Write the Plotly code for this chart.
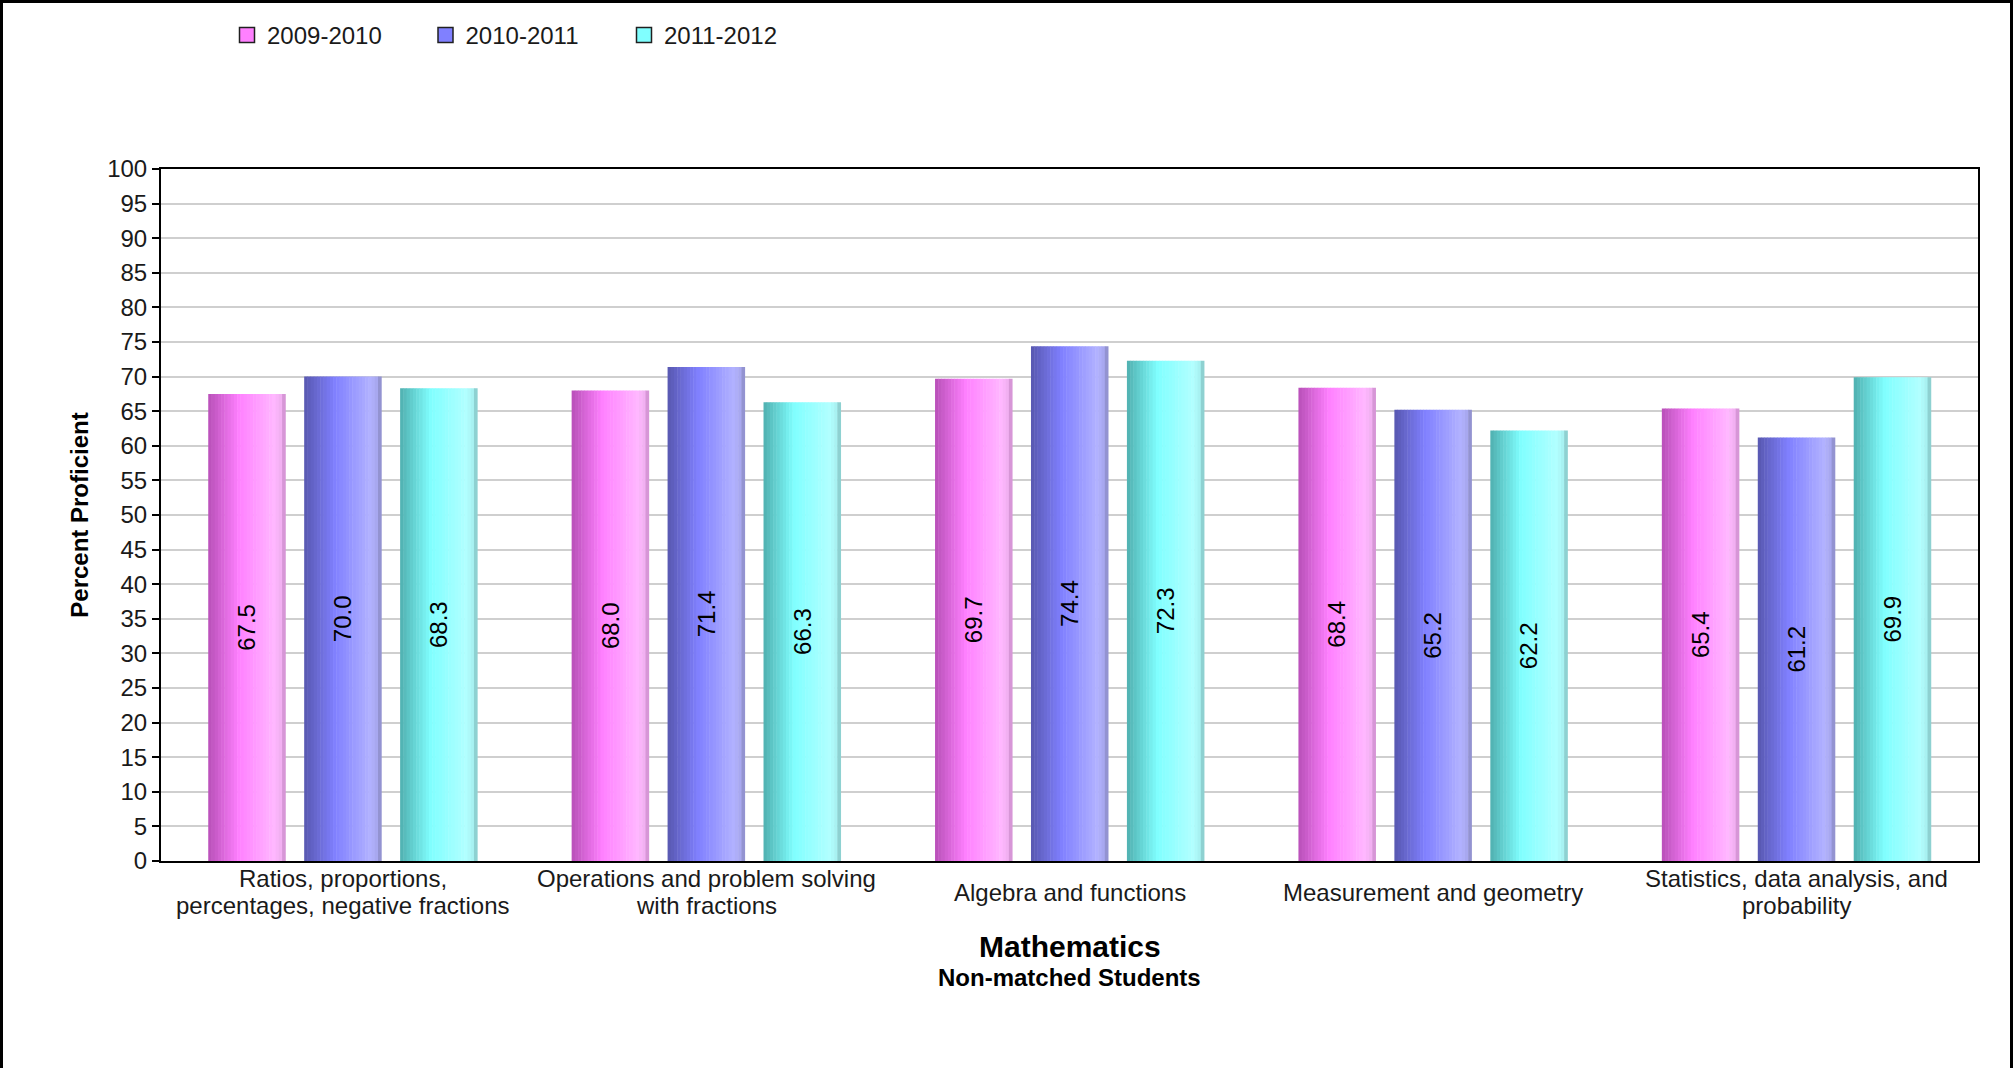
import plotly.graph_objects as go

# ---- data ----
category_lines = [
    ["Ratios, proportions,", "percentages, negative fractions"],
    ["Operations and problem solving", "with fractions"],
    ["Algebra and functions"],
    ["Measurement and geometry"],
    ["Statistics, data analysis, and", "probability"],
]
categories = [" ".join(lines) for lines in category_lines]
series_names = ["2009-2010", "2010-2011", "2011-2012"]
values_2009_2010 = [67.5, 68.0, 69.7, 68.4, 65.4]
values_2010_2011 = [70.0, 71.4, 74.4, 65.2, 61.2]
values_2011_2012 = [68.3, 66.3, 72.3, 62.2, 69.9]
y_ticks = list(range(0, 101, 5))

series_values = [values_2009_2010, values_2010_2011, values_2011_2012]

# ---- styling ----
FONT = "Liberation Sans, Arial, sans-serif"
FS = 24
W, H = 2015, 1068
M_L, M_R, M_T, M_B = 161, 37, 169, 207
PLOT_W = W - M_L - M_R
PLOT_H = H - M_T - M_B
PLOT_BOTTOM = H - M_B

# colour stops for the cylindrical shading (left dark -> bright -> light -> rim)
shades = [
    [(0.0, (0xB8, 0x50, 0xB8)), (0.4, (0xFF, 0x80, 0xFF)), (0.86, (0xFF, 0xB8, 0xFF)),
     (0.94, (0xF2, 0xB0, 0xF2)), (1.0, (0xC8, 0x88, 0xC8))],
    [(0.0, (0x58, 0x58, 0xB0)), (0.4, (0x80, 0x80, 0xFF)), (0.86, (0xB2, 0xB2, 0xFF)),
     (0.94, (0xA8, 0xA8, 0xF0)), (1.0, (0x88, 0x88, 0xC0))],
    [(0.0, (0x50, 0xB0, 0xB0)), (0.4, (0x80, 0xFF, 0xFF)), (0.86, (0xB2, 0xFF, 0xFF)),
     (0.94, (0xA8, 0xF2, 0xF2)), (1.0, (0x80, 0xC0, 0xC0))],
]
base_colors = ["#FF80FF", "#8080FF", "#80FFFF"]

BAR_W = 0.212          # bar width in category units
PITCH = 0.264          # distance between bar centres in a group
N_STRIPES = 24


def shade_at(stops, t):
    for (t0, c0), (t1, c1) in zip(stops[:-1], stops[1:]):
        if t0 <= t <= t1:
            f = (t - t0) / (t1 - t0) if t1 > t0 else 0
            r, g, b = (round(a + (bb - a) * f) for a, bb in zip(c0, c1))
            return f"rgb({r},{g},{b})"
    r, g, b = stops[-1][1]
    return f"rgb({r},{g},{b})"


fig = go.Figure()

for s, (name, vals) in enumerate(zip(series_names, series_values)):
    centre = (s - 1) * PITCH
    left = centre - BAR_W / 2
    sw = BAR_W / N_STRIPES
    for k in range(N_STRIPES):
        t = (k + 0.5) / N_STRIPES
        fig.add_trace(go.Bar(
            x=categories, y=vals,
            width=sw * 1.15, offset=left + k * sw,
            marker=dict(color=shade_at(shades[s], t), line=dict(width=0)),
            showlegend=False, hoverinfo="skip",
        ))
    # value labels, rotated, centred in each bar
    fig.add_trace(go.Bar(
        x=categories, y=vals, name=name,
        width=BAR_W, offset=left,
        marker=dict(color="rgba(0,0,0,0)", line=dict(width=0)),
        text=[f"{v:.1f}" for v in vals],
        textposition="inside", insidetextanchor="middle", textangle=-90,
        textfont=dict(family=FONT, size=FS, color="black"),
        constraintext="none",
        showlegend=False, hovertemplate="%{x}: %{y:.1f}<extra>" + name + "</extra>",
    ))

# legend entries (square swatches with a dark outline)
for name, col in zip(series_names, base_colors):
    fig.add_trace(go.Scatter(
        x=[None], y=[None], name=name, mode="markers",
        marker=dict(symbol="square", size=15, color=col,
                    line=dict(color="#202020", width=1.5)),
        showlegend=True,
    ))

# category labels below the axis, each line placed separately
LINE_STEP = 27
LABEL_CENTRE = 892
annotations = []
for cat, lines in zip(categories, category_lines):
    n = len(lines)
    for i, line in enumerate(lines):
        ypx = LABEL_CENTRE + (i - (n - 1) / 2) * LINE_STEP
        annotations.append(dict(
            text=line, xref="x", yref="paper", x=cat,
            y=-(ypx - PLOT_BOTTOM) / PLOT_H, xanchor="center", yanchor="middle",
            showarrow=False, font=dict(family=FONT, size=FS, color="#1a1a1a"),
        ))

annotations += [
    dict(text="<b>Mathematics</b>", xref="paper", yref="paper",
         x=0.5, y=-(946 - PLOT_BOTTOM) / PLOT_H, xanchor="center", yanchor="middle",
         showarrow=False, font=dict(family=FONT, size=30, color="black")),
    dict(text="<b>Non-matched Students</b>", xref="paper", yref="paper",
         x=0.5, y=-(977 - PLOT_BOTTOM) / PLOT_H, xanchor="center", yanchor="middle",
         showarrow=False, font=dict(family=FONT, size=FS, color="black")),
]

fig.update_layout(
    width=W, height=H,
    margin=dict(l=M_L, r=M_R, t=M_T, b=M_B),
    paper_bgcolor="white", plot_bgcolor="white",
    barmode="overlay",
    font=dict(family=FONT, size=FS, color="#1a1a1a"),
    showlegend=True,
    legend=dict(
        orientation="h", x=(227 - M_L) / PLOT_W, xanchor="left",
        y=1 + (M_T - 35.5) / PLOT_H, yanchor="middle",
        font=dict(family=FONT, size=FS, color="#1a1a1a"),
        entrywidth=153.5, entrywidthmode="pixels",
        bgcolor="rgba(0,0,0,0)", traceorder="normal",
    ),
    xaxis=dict(
        type="category", categoryorder="array", categoryarray=categories,
        showgrid=False, ticks="", showticklabels=False,
        showline=True, linecolor="black", linewidth=2, mirror=True,
        range=[-0.5, len(categories) - 0.5],
    ),
    yaxis=dict(
        range=[0, 100], tickvals=y_ticks, ticktext=[str(v) for v in y_ticks],
        showgrid=True, gridcolor="#cfcfcf", gridwidth=2,
        ticks="outside", ticklen=7, tickcolor="black", tickwidth=1.5,
        showline=True, linecolor="black", linewidth=2, mirror=True,
        tickfont=dict(family=FONT, size=FS, color="#1a1a1a"),
        zeroline=False,
        title=dict(text="<b>Percent Proficient</b>", standoff=12,
                   font=dict(family=FONT, size=FS, color="black")),
    ),
    annotations=annotations,
    shapes=[
        # outer frame of the picture (open at the bottom)
        dict(type="rect", xref="paper", yref="paper",
             x0=(1.5 - M_L) / PLOT_W, x1=(2011.5 - M_L) / PLOT_W,
             y0=-(H + 20 - PLOT_BOTTOM) / PLOT_H, y1=1 + (M_T - 1.5) / PLOT_H,
             line=dict(color="black", width=3), fillcolor="rgba(0,0,0,0)", layer="above"),
    ],
)

fig.write_html("out.html")
